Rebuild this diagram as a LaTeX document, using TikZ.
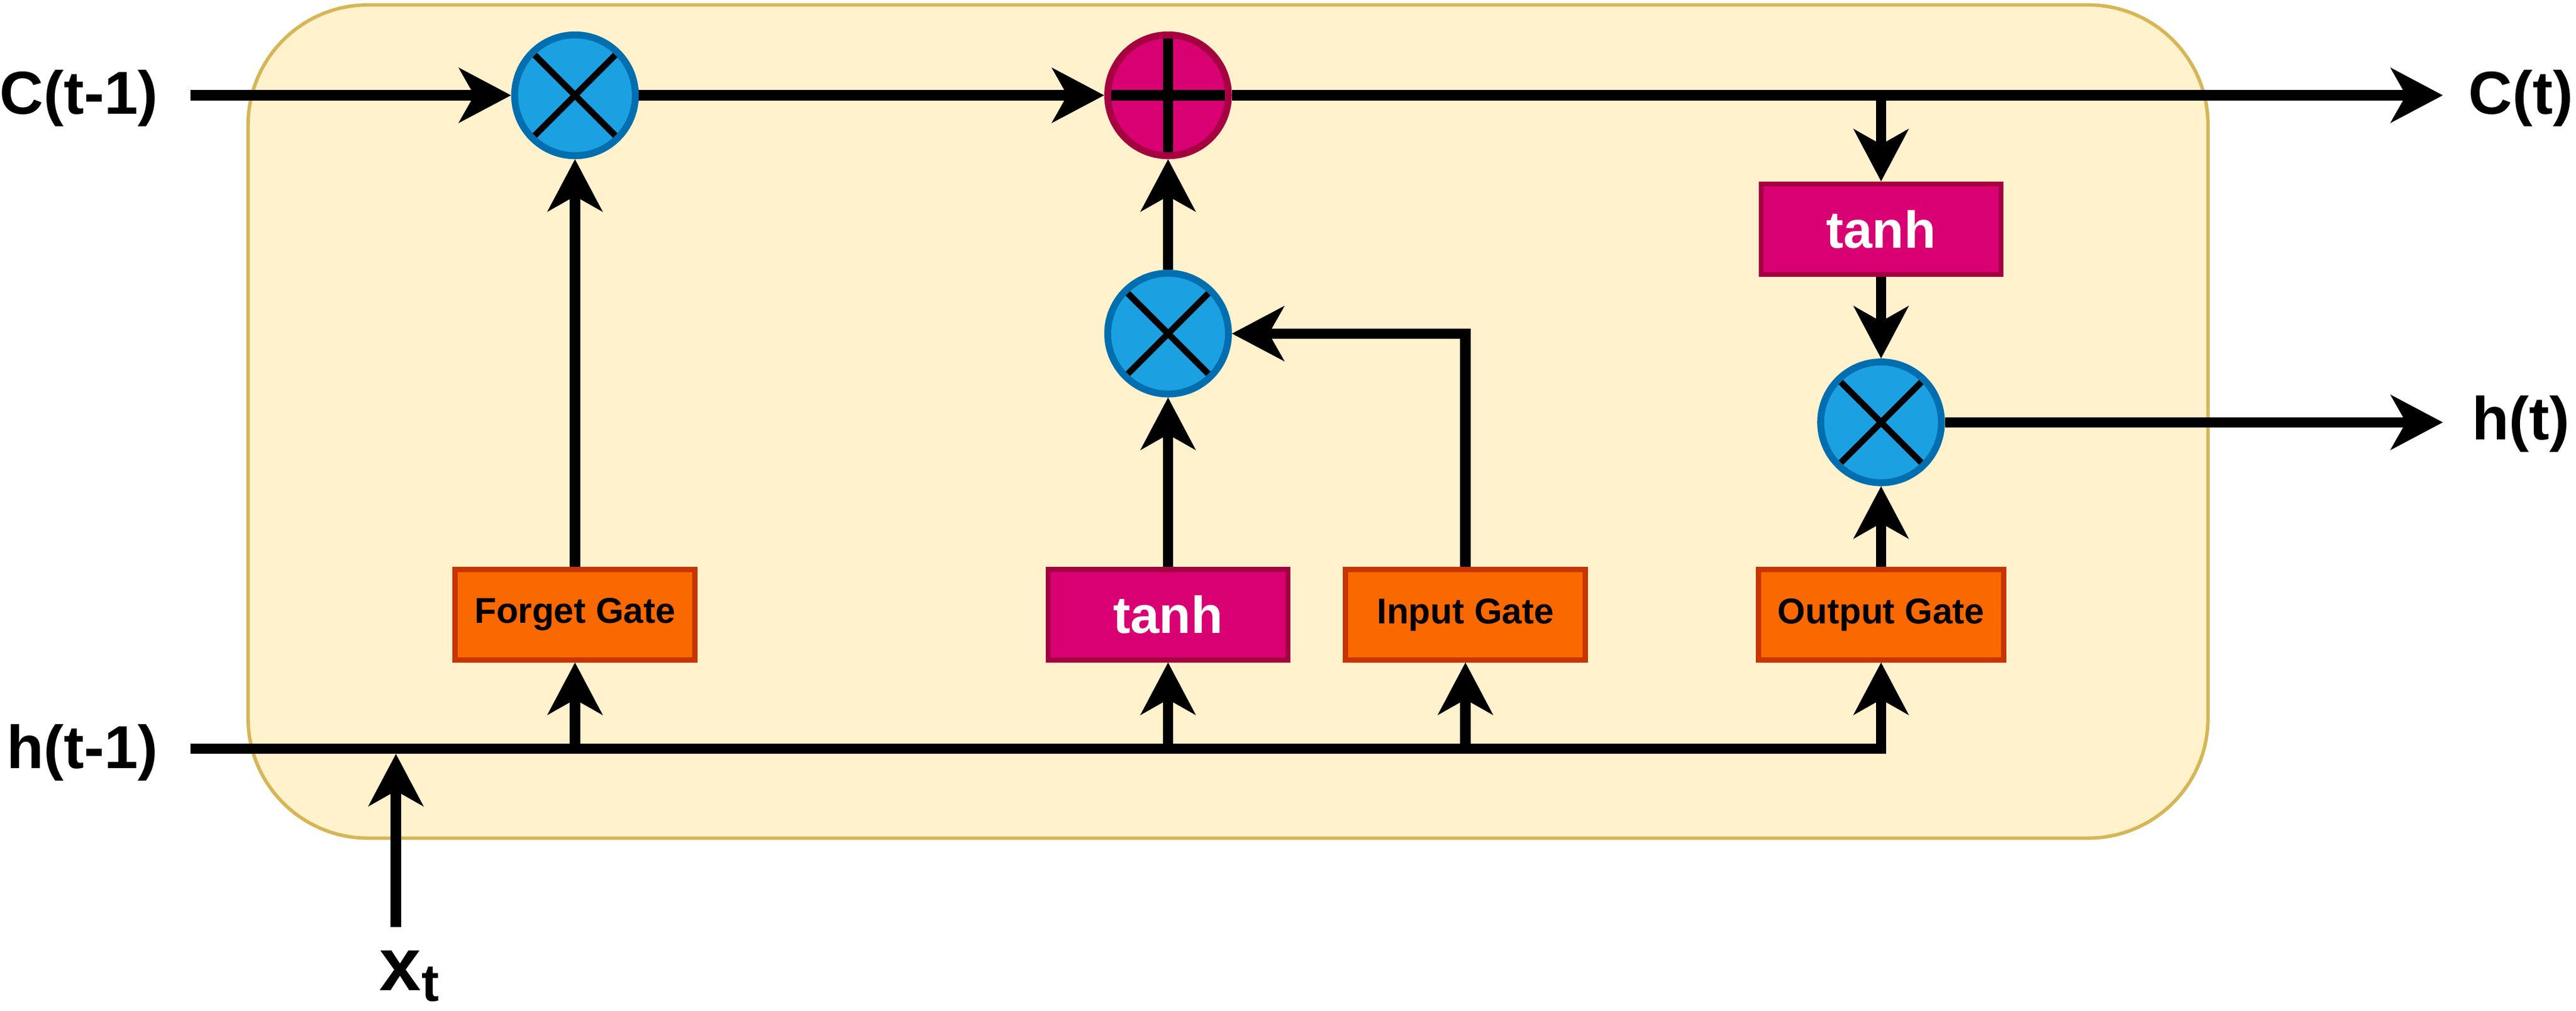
\documentclass[tikz,border=0pt]{standalone}
\usepackage{fontspec}
\setmainfont{Liberation Sans}
\usepackage{tikz}
\usetikzlibrary{arrows.meta}
\usetikzlibrary{positioning}
\definecolor{cellfill}{HTML}{FFF2CC}
\definecolor{cellborder}{HTML}{D6B656}
\definecolor{mulfill}{HTML}{1BA1E2}
\definecolor{mulborder}{HTML}{006EAF}
\definecolor{actfill}{HTML}{D80073}
\definecolor{actborder}{HTML}{A50040}
\definecolor{gatefill}{HTML}{FA6800}
\definecolor{gateborder}{HTML}{C73500}
\tikzstyle{connector}=[line width=1.8pt, -{Stealth[length=9pt,width=9.4pt,inset=2.6pt]}]
\tikzstyle{op_node}=[circle, minimum size=7.35mm, inner sep=0pt, line width=1.2pt]
\tikzstyle{op_mul}=[op_node, fill=mulfill, draw=mulborder, mul_cross]
\tikzstyle{op_add}=[op_node, fill=actfill, draw=actborder, add_cross]
\tikzstyle{mul_cross}=[
    {path picture={
        \draw[black, line width=1.1pt]
        (path picture bounding box.south east) --
        (path picture bounding box.north west)
        (path picture bounding box.south west) --
        (path picture bounding box.north east);
      }
    }
]
\tikzstyle{add_cross}=[
    {path picture={
        \draw[black, line width=1.8pt]
        (path picture bounding box.north) --
        (path picture bounding box.south)
        (path picture bounding box.west) --
        (path picture bounding box.east);
      }
    }
]
\tikzstyle{gate}=[rectangle, minimum width=14.6mm, minimum height=5.5mm, line width=0.9pt, fill=gatefill, draw=gateborder, font=\fontsize{6.2}{7}\selectfont\bfseries]
\tikzstyle{act}=[gate, fill=actfill, draw=actborder, text=white, font=\fontsize{9}{10}\selectfont\bfseries]
\tikzstyle{io_label}=[inner sep=0pt, font=\fontsize{10.5}{12}\selectfont\bfseries]

\begin{document}
\begin{tikzpicture}[x=0.1mm, y=-0.1mm]
          \useasboundingbox (0,0) rectangle (1568,615);
          \node[rectangle, rounded corners=7.3mm, fill=cellfill, draw=cellborder, line width=0.6pt, minimum width=119.3mm, minimum height=50.7mm] (cell) at (747.5,256.5){};
          \node[op_mul] (fmul) at (350,58){};
          \node[op_add] (add) at (711,58){};
          \node[op_mul] (imul) at (711,203){};
          \node[op_mul] (omul) at (1145,257){};
          \node[act] (tanh_c) at (1145,139.5){tanh};
          \node[gate] (fgate) at (350,374){Forget Gate};
          \node[act] (tanh_i) at (711,374){tanh};
          \node[gate] (igate) at (892,374){Input Gate};
          \node[gate] (ogate) at (1145,374){Output Gate};
          \node[io_label, anchor=east] (c_prev) at (97,60){C(t-1)};
          \node[io_label, anchor=east] (h_prev) at (97,458){h(t-1)};
          \node[io_label, anchor=west] (c_next) at (1502,60){C(t)};
          \node[io_label, anchor=west] (h_next) at (1504,258){h(t)};
          \node[inner sep=0pt, font=\fontsize{13}{15}\selectfont\bfseries] (x_in) at (250,594){x\textsubscript{t}};
          \coordinate (c_start) at (116,58);
          \coordinate (c_end) at (1487,58);
          \coordinate (h_start) at (116,455.5);
          \coordinate (h_end) at (1487,257);
          \coordinate (x_start) at (241,564);
          \coordinate (x_end) at (241,458.7);
          \draw[connector](c_start) -- (fmul);
          \draw[connector](fmul) -- (add);
          \draw[connector](add) -- (c_end);
          \draw[connector](tanh_c |- add) -- (tanh_c);
          \draw[connector](tanh_c) -- (omul);
          \draw[connector](omul) -- (h_end);
          \draw[connector](ogate) -- (omul);
          \draw[connector](h_start) -| (ogate);
          \draw[connector](fgate |- h_start) -- (fgate);
          \draw[connector](tanh_i |- h_start) -- (tanh_i);
          \draw[connector](igate |- h_start) -- (igate);
          \draw[connector](fgate) -- (fmul);
          \draw[connector](tanh_i) -- (imul);
          \draw[connector](imul) -- (add);
          \draw[connector](igate) |- (imul);
          \draw[connector](x_start) -- (x_end);
        \end{tikzpicture}
\end{document}
